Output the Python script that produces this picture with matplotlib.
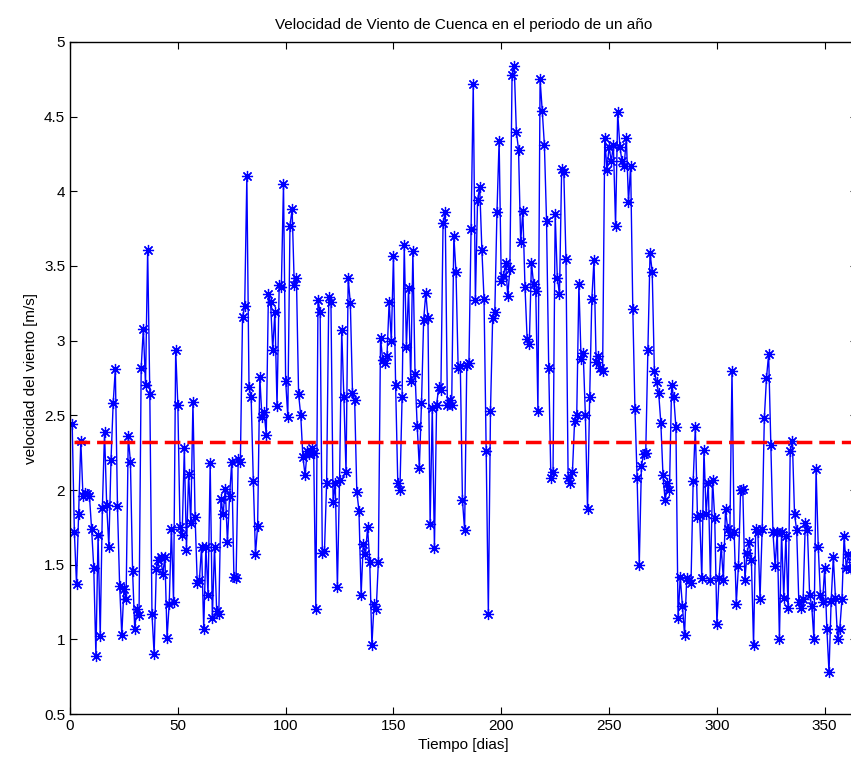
import numpy as np
import matplotlib
matplotlib.use('Agg')
import matplotlib.pyplot as plt

plt.rcParams['font.family'] = ['Liberation Sans', 'DejaVu Sans']

# daily wind speed readings (m/s)
speed_jan_feb = [2.44, 1.72, 1.37, 1.84, 2.33, 1.96, 1.98, 1.97, 1.96, 1.74,
                 1.48, 0.89, 1.70, 1.02, 1.88, 2.39, 1.90, 1.62, 2.20, 2.58,
                 2.81, 1.89, 1.36, 1.03, 1.34, 1.27, 2.36, 2.19, 1.46, 1.07,
                 1.20, 1.16, 2.82, 3.08, 2.70, 3.61, 2.64, 1.17, 0.90, 1.47,
                 1.53, 1.55, 1.44, 1.55, 1.01, 1.24, 1.74, 1.25, 2.94, 2.57,
                 1.75, 1.70, 2.28, 1.60, 2.11, 1.78, 2.59, 1.82, 1.38, 1.40,
                 1.62, 1.07, 1.62, 1.30, 2.18, 1.14, 1.62, 1.19, 1.17, 1.94,
                 1.84, 2.01, 1.65, 1.96, 2.19, 1.42, 1.41, 2.21, 2.19, 3.16,
                 3.23, 4.10]
speed_mar_apr = [2.69, 2.62, 2.06, 1.57, 1.76, 2.76, 2.49, 2.52, 2.37, 3.31,
                 3.26, 2.94, 3.19, 2.56, 3.37, 3.36, 4.05,
                 2.73, 2.49, 3.77, 3.88, 3.37, 3.42, 2.64, 2.50, 2.22, 2.10,
                 2.26, 2.24, 2.28, 2.25, 1.20,
                 3.27, 3.19, 1.58, 1.59, 2.05, 3.29, 3.26, 1.92, 2.05, 1.35,
                 2.07, 3.07, 2.62, 2.12, 3.42, 3.25, 2.65, 2.60, 1.99, 1.86,
                 1.30, 1.64, 1.57, 1.75, 1.52, 0.96, 1.24, 1.20, 1.52, 3.02,
                 2.87, 2.85, 2.90, 3.26, 3.00, 3.57]
speed_may_jul = [2.70, 2.05, 2.00, 2.62, 3.64, 2.96, 3.35, 2.73, 3.60, 2.78,
                 2.43, 2.15, 2.58, 3.14, 3.32, 3.15, 1.77, 2.55, 1.61, 2.57,
                 2.69, 2.67, 3.79, 3.86, 2.57, 2.60, 2.57, 3.70, 3.46, 2.82,
                 2.83, 1.93, 1.73, 2.84, 2.85, 3.75, 4.72,
                 3.27, 3.94, 4.03, 3.61, 3.28, 2.26, 1.17, 2.53, 3.15, 3.19,
                 3.86, 4.34, 3.40, 3.43, 3.52, 3.30, 3.48, 4.78, 4.84,
                 4.40, 4.28, 3.66, 3.87, 3.36, 3.01, 2.98, 3.52, 3.38, 3.33,
                 2.53, 4.75]
speed_aug_sep = [4.54, 4.31, 3.80, 2.82, 2.08, 2.12, 3.85, 3.42, 3.31, 4.15,
                 4.13, 3.55, 2.08, 2.05, 2.12, 2.46, 2.50, 3.38, 2.88, 2.92,
                 2.50, 1.87, 2.62, 3.28, 3.54, 2.86, 2.90, 2.82, 2.80, 4.36,
                 4.14, 4.30, 4.20, 4.31, 3.77, 4.53,
                 4.30, 4.20, 4.17, 4.36, 3.93, 4.17, 3.21, 2.54, 2.08, 1.50,
                 2.16, 2.24, 2.25, 2.94, 3.59, 3.46, 2.80, 2.72, 2.65, 2.45,
                 2.10, 1.93, 2.05, 2.00, 2.70, 2.62, 2.42, 1.14]
speed_oct_dec = [1.42, 1.22, 1.03, 1.41, 1.40, 1.38, 2.06, 2.42, 1.82, 1.83,
                 1.41, 2.27, 1.84, 2.05, 1.40, 2.07, 1.81, 1.10, 1.41, 1.62,
                 1.40, 1.87, 1.74, 1.70, 2.80,
                 1.72, 1.24, 1.49, 2.00, 2.01, 1.40, 1.58, 1.65, 1.53, 0.96,
                 1.74, 1.72, 1.27, 1.74, 2.48, 2.75, 2.91,
                 2.30, 1.72, 1.49, 1.72, 1.00, 1.72, 1.28, 1.69, 1.21, 2.26,
                 2.33, 1.84, 1.73, 1.25, 1.21, 1.27, 1.78, 1.73, 1.30, 1.22,
                 1.00, 2.14, 1.62, 1.30, 1.25, 1.48, 1.07, 0.78,
                 1.26, 1.55, 1.28, 1.00, 1.07, 1.27, 1.69, 1.48, 1.57, 1.47,
                 1.52, 1.45, 1.60]

speed = np.array(speed_jan_feb + speed_mar_apr + speed_may_jul + speed_aug_sep + speed_oct_dec)
days = np.arange(1, len(speed) + 1)
mean_speed = 2.32

fig = plt.figure(figsize=(8.51, 7.69), dpi=100)
ax = fig.add_axes([0.0823, 0.0715, 0.9248, 0.8739])

# MATLAB-style asterisk marker
ax.plot(days, speed, color='b', lw=1, marker=(8, 2, 0), markersize=8, markeredgewidth=0.9)
ax.plot([days[1], days[-1]], [mean_speed, mean_speed], color='r', lw=2.5, ls='--', dashes=(4.5, 2))

ax.set_xlim(0, 365)
ax.set_ylim(0.5, 5)
ax.set_xticks(np.arange(0, 351, 50))
ax.set_yticks(np.arange(0.5, 5.01, 0.5))
ax.set_yticklabels(['0.5', '1', '1.5', '2', '2.5', '3', '3.5', '4', '4.5', '5'])
ax.tick_params(direction='in', labelsize=11, top=True, right=True, length=5)
for s in ax.spines.values():
    s.set_linewidth(1)

ax.set_title('Velocidad de Viento de Cuenca en el periodo de un año', fontsize=11, pad=9)
ax.set_xlabel('Tiempo [dias]', fontsize=11)
ax.set_ylabel('velocidad del viento [m/s]', fontsize=11)

fig.savefig('out.png', dpi=100)
